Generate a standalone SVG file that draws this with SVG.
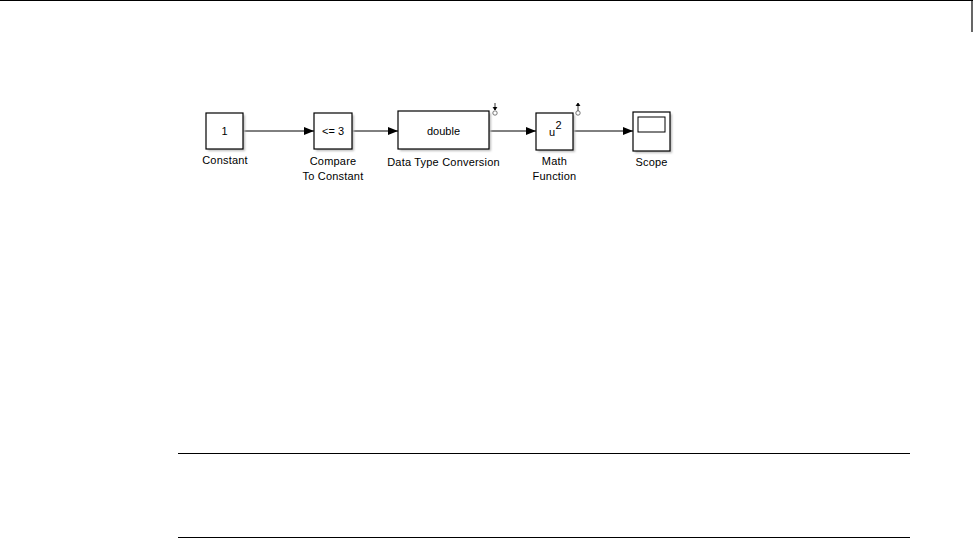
<svg xmlns="http://www.w3.org/2000/svg" width="973" height="538" viewBox="0 0 973 538">
<style>
.blk{fill:#fff;stroke:#000;stroke-width:1.2}
.sh{fill:#bbb;filter:url(#blur)}
.lbl{font-family:"Liberation Sans",Arial,sans-serif;font-size:11px;fill:#000;text-anchor:middle;letter-spacing:0.2px}
.in{font-family:"Liberation Sans",Arial,sans-serif;font-size:11px;fill:#000;text-anchor:middle}
.wire{stroke:#000;stroke-width:1;fill:none}
.rule{stroke:#000;stroke-width:1.2}
</style>
<defs>
<filter id="blur" x="-20%" y="-20%" width="140%" height="140%"><feGaussianBlur stdDeviation="1.2"/></filter>
<marker id="arr" markerWidth="10" markerHeight="8" refX="10" refY="4" orient="auto" markerUnits="userSpaceOnUse"><path d="M0,0 L10,4 L0,8 Z" fill="#000"/></marker>
</defs>
<rect width="973" height="538" fill="#fff"/>
<g id="frame">
<line x1="0" y1="0.5" x2="973" y2="0.5" class="rule"/>
<line x1="972" y1="0" x2="972" y2="32" class="rule"/>
<line x1="178" y1="453.5" x2="910" y2="453.5" class="rule"/>
<line x1="178" y1="537.5" x2="910" y2="537.5" class="rule"/>
</g>
<g id="connectors">
<line x1="243" y1="131" x2="314" y2="131" class="wire" marker-end="url(#arr)"/>
<line x1="352" y1="131" x2="398" y2="131" class="wire" marker-end="url(#arr)"/>
<line x1="489" y1="131" x2="536" y2="131" class="wire" marker-end="url(#arr)"/>
<line x1="573" y1="131" x2="633" y2="131" class="wire" marker-end="url(#arr)"/>
</g>
<g id="constant">
<rect x="208" y="115" width="37" height="36" class="sh"/>
<rect x="206" y="113" width="37" height="36" class="blk"/>
<text x="224.5" y="135" class="in">1</text>
<text x="225" y="164" class="lbl">Constant</text>
</g>
<g id="compare">
<rect x="316" y="115" width="38" height="36" class="sh"/>
<rect x="314" y="113" width="38" height="36" class="blk"/>
<text x="333" y="135" class="in">&lt;= 3</text>
<text x="333" y="165" class="lbl">Compare</text>
<text x="333" y="180" class="lbl">To Constant</text>
</g>
<g id="dtc">
<rect x="400" y="113" width="91" height="38" class="sh"/>
<rect x="398" y="111" width="91" height="38" class="blk"/>
<text x="443.5" y="135" class="in">double</text>
<text x="443.5" y="166" class="lbl">Data Type Conversion</text>
<g stroke="#000" stroke-width="0.8" fill="none">
<line x1="495" y1="103" x2="495" y2="110"/>
<path d="M493,107 L495,110 L497,107" fill="#000"/>
<circle cx="495" cy="113" r="2.2" stroke="#555"/>
</g>
</g>
<g id="math">
<rect x="538" y="115" width="37" height="37" class="sh"/>
<rect x="536" y="113" width="37" height="37" class="blk"/>
<text x="552" y="136" class="in">u</text>
<text x="558.5" y="129" class="in">2</text>
<text x="554.5" y="165" class="lbl">Math</text>
<text x="554.5" y="180" class="lbl">Function</text>
<g stroke="#000" stroke-width="0.8" fill="none">
<line x1="578" y1="104" x2="578" y2="111"/>
<path d="M576,106 L578,103 L580,106" fill="#000"/>
<circle cx="578" cy="113" r="2.2" stroke="#555"/>
</g>
</g>
<g id="scope">
<rect x="635" y="114" width="37" height="39" class="sh"/>
<rect x="633" y="112" width="37" height="39" class="blk"/>
<rect x="638" y="117" width="27" height="15" fill="#fff" stroke="#000" stroke-width="1"/>
<text x="651.5" y="166" class="lbl">Scope</text>
</g>
</svg>
